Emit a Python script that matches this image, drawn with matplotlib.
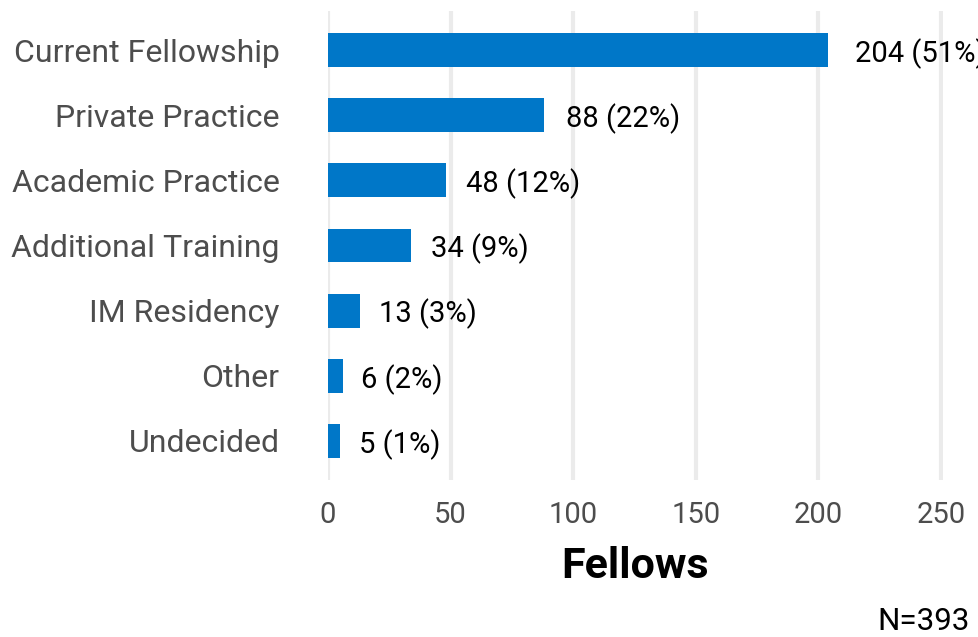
import matplotlib.pyplot as plt
import numpy as np

plt.rcParams['font.family'] = ['Roboto', 'DejaVu Sans']

categories = ["Current Fellowship", "Private Practice", "Academic Practice",
              "Additional Training", "IM Residency", "Other", "Undecided"]
counts = [204, 88, 48, 34, 13, 6, 5]
percents = [51, 22, 12, 9, 3, 2, 1]
total_n = 393

fig = plt.figure(figsize=(9.79, 6.37), dpi=100)
ax = fig.add_axes([328 / 979, 1 - 480 / 637, 615 / 979, 469 / 637])

y = np.arange(len(categories))
ax.barh(y, counts, height=0.52, color='#0077C8', zorder=2)

# value labels just right of each bar
for yi, c, p in zip(y, counts, percents):
    ax.annotate(f"{c} ({p}%)", (c * 1.018, yi), xytext=(13, 0), textcoords='offset points',
                va='center_baseline', ha='left', fontsize=21, color='black',
                annotation_clip=False)

ax.set_yticks(y)
ax.set_yticklabels(categories, va='center_baseline')
ax.set_ylim(len(categories) - 0.4, -0.6)
ax.set_xlim(0, 250.8)
ax.set_xticks([0, 50, 100, 150, 200, 250])
ax.tick_params(axis='y', length=0, labelsize=23, labelcolor='#4D4D4D', pad=35)
ax.tick_params(axis='x', length=0, labelsize=21, labelcolor='#4D4D4D', pad=15)
ax.grid(axis='x', color='#EBEBEB', linewidth=3, zorder=0)
for s in ax.spines.values():
    s.set_visible(False)

ax.set_xlabel("Fellows", fontsize=31, fontweight='bold', labelpad=12)
fig.text(970 / 979, 1 - 621 / 637, f"N={total_n}", ha='right', va='center',
         fontsize=22.5, color='black')

fig.savefig("out.png", dpi=100)
